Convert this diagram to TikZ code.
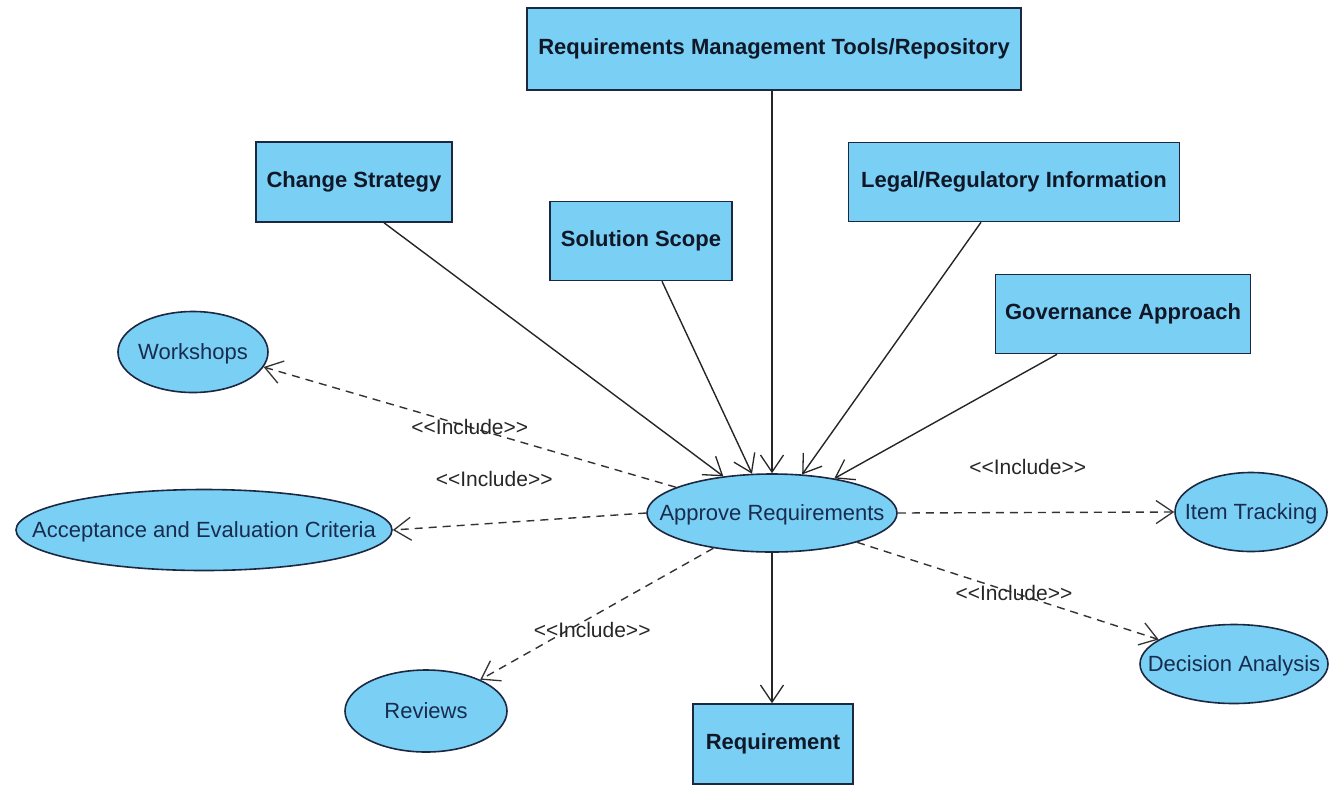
\documentclass[tikz,border=0pt]{standalone}
\usepackage{fontspec}
\setmainfont{Liberation Sans}
\usetikzlibrary{shapes.geometric,arrows.meta,calc}

\definecolor{ucfill}{RGB}{122,207,245}
\definecolor{ucline}{RGB}{28,40,64}
\definecolor{uctext}{RGB}{24,44,78}
\definecolor{boxtext}{RGB}{16,24,40}

% stereotype text for include relations
\newcommand{\inclabel}{<{}<Include>{}>}

\tikzset{
  artifact/.style={draw=ucline, fill=ucfill, line width=1.6pt, rectangle,
    inner sep=0pt, font=\fontsize{22}{24}\selectfont\bfseries, text=boxtext},
  % the ellipse keeps its given size; the text is centred without widening it
  usecase/.style={draw=ucline, fill=ucfill, line width=1.6pt, ellipse,
    inner sep=0pt, font=\fontsize{22}{24}\selectfont, text=uctext,
    execute at begin node={\setbox0=\hbox\bgroup},
    execute at end node={\egroup\smash{\makebox[0pt]{\raisebox{-0.36em}{\box0}}}}},
  barb/.style={-{Straight Barb[length=17pt,width=23pt,line width=1.3pt]}},
  flow/.style={barb, draw=black!85, line width=1.4pt},
  incl/.style={barb, draw=black!80, line width=1.4pt, dash pattern=on 8pt off 6pt},
  lbl/.style={font=\fontsize{21}{24}\selectfont, text=black!85, inner sep=1pt}
}

\begin{document}
\begin{tikzpicture}[x=1pt, y=-1pt]
\useasboundingbox (0,0) rectangle (1330,785);

% input artifacts
\node[artifact, minimum width=494pt, minimum height=82pt] (rmt) at (774,49) {Requirements Management Tools/Repository};
\node[artifact, minimum width=196pt, minimum height=80pt] (cs)  at (354,182) {Change Strategy};
\node[artifact, minimum width=182pt, minimum height=79pt] (ss)  at (641,241) {Solution Scope};
\node[artifact, minimum width=331pt, minimum height=79pt] (lri) at (1014,182) {Legal/Regulatory Information};
\node[artifact, minimum width=255pt, minimum height=79pt] (ga)  at (1123,314) {Governance Approach};

% central task
\node[usecase, minimum width=250pt, minimum height=78pt] (ar) at (772,513) {Approve Requirements};

% output artifact
\node[artifact, minimum width=160pt, minimum height=80pt] (req) at (773,744) {Requirement};

% techniques
\node[usecase, minimum width=150pt, minimum height=81pt] (ws)  at (193,352) {Workshops};
\node[usecase, minimum width=376pt, minimum height=81pt] (aec) at (204,530) {Acceptance and Evaluation Criteria};
\node[usecase, minimum width=152pt, minimum height=79pt] (it)  at (1251,512) {Item Tracking};
\node[usecase, minimum width=188pt, minimum height=79pt] (da)  at (1234,664) {Decision Analysis};
\node[usecase, minimum width=162pt, minimum height=82pt] (rv)  at (426,711) {Reviews};

% inputs into the task
\draw[flow] (rmt.south -| ar.north) -- (ar.north);
\draw[flow] ($(cs.south)+(30,0)$) -- (ar.143);
\draw[flow] ($(ss.south)+(21,0)$) -- (ar.117);
\draw[flow] ($(lri.south)+(-33,0)$) -- (ar.52);
\draw[flow] ($(ga.south)+(-66,0)$) -- (ar.29);

% output of the task
\draw[flow] (ar.south) -- (ar.south |- req.north);

% included techniques
\draw[incl] (ar.165) -- node[lbl, pos=0.5] {\inclabel} (ws.-12);
\draw[incl] (ar.west) -- node[lbl, pos=0.6, yshift=44pt] {\inclabel} (aec.east);
\draw[incl] (ar.east) -- node[lbl, pos=0.47, yshift=46pt] {\inclabel} (it.west);
\draw[incl] (ar.-19) -- node[lbl, pos=0.52] {\inclabel} (da.162);
\draw[incl] (ar.211) -- node[lbl, pos=0.52, yshift=-13pt] {\inclabel} (rv.30);
\end{tikzpicture}
\end{document}
